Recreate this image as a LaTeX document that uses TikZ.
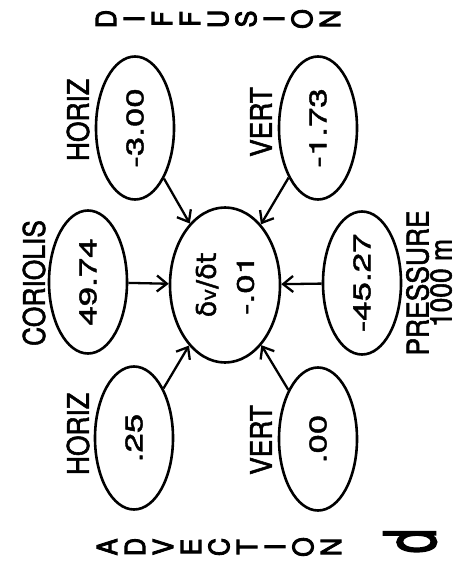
\documentclass[tikz,border=0pt]{standalone}
\usepackage{fontspec}
\setmainfont{TeX Gyre Heros}
\newfontfamily\numfont[FakeStretch=1.45, FakeBold=1.8]{TeX Gyre Heros}
\newfontfamily\tagfont[FakeStretch=0.88, FakeBold=1.8]{TeX Gyre Heros}
\newfontfamily\stackfont[FakeStretch=0.9, FakeBold=3]{TeX Gyre Heros}
\newfontfamily\partfont[FakeStretch=0.6, FakeBold=2]{TeX Gyre Heros}
\newfontfamily\greekfont[FakeBold=1.5]{DejaVu Sans}
\usetikzlibrary{shapes.geometric, arrows.meta}

\tikzset{
  term/.style={draw, ellipse, line width=2.6pt, rotate=90, inner sep=0pt,
    minimum width=143pt, minimum height=78pt,
    font={\numfont\fontsize{24}{38}\selectfont}},
  budget/.style={term, minimum width=155pt, minimum height=110pt, align=center},
  tag/.style={rotate=90, inner sep=0pt, align=center,
    font={\tagfont\fontsize{30}{23}\selectfont}},
  column/.style={rotate=90, inner sep=0pt, align=center,
    font={\stackfont\fontsize{28}{28}\selectfont}},
  flux/.style={-{Straight Barb[length=10pt,width=16pt]}, line width=2.3pt},
}

\begin{document}
\begin{tikzpicture}[x=1pt, y=-1pt]
\useasboundingbox (0,0) rectangle (459,561);

% group headings
\node [column] (diffusion) at (218,19) {D\\I\\F\\F\\U\\S\\I\\O\\N};
\node [column] (advection) at (219,547) {A\\D\\V\\E\\C\\T\\I\\O\\N};
\node [rotate=90, inner sep=0pt, font={\partfont\fontsize{72}{72}\selectfont}]
  (panel) at (410,541) {d};

% terms
\node [budget] (rate) at (225,285)
  {{\greekfont\fontsize{27}{38}\selectfont δ{\fontsize{20}{20}\selectfont v}/δt}\\-.01};
\node [term] (hdiff) at (135,128) {-3.00};
\node [term] (vdiff) at (318,128) {-1.73};
\node [term] (cor) at (88,282) {49.74};
\node [term] (pres) at (362,283) {-45.27};
\node [term] (hadv) at (134,438) {.25};
\node [term] (vadv) at (318,439) {.00};

% labels
\node [tag] (hdiff-lab) at (78,120) {HORIZ};
\node [tag] (vdiff-lab) at (261,122) {VERT};
\node [tag] (cor-lab) at (34,283) {CORIOLIS};
\node [tag] (pres-lab) at (429,283) {PRESSURE\\1000 m};
\node [tag] (hadv-lab) at (78,434) {HORIZ};
\node [tag] (vadv-lab) at (261,440) {VERT};

\draw [flux] (hdiff) -- (rate);
\draw [flux] (vdiff) -- (rate);
\draw [flux] (cor) -- (rate);
\draw [flux] (pres) -- (rate);
\draw [flux] (hadv) -- (rate);
\draw [flux] (vadv) -- (rate);

\end{tikzpicture}
\end{document}
